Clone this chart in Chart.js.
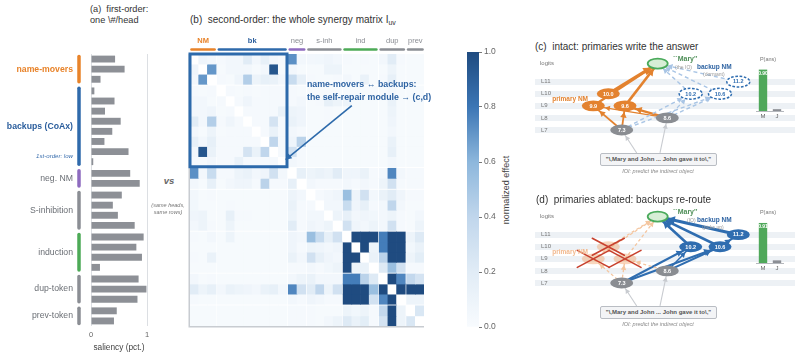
<!DOCTYPE html>
<html><head><meta charset="utf-8">
<script src="https://cdn.jsdelivr.net/npm/chart.js@4.4.1/dist/chart.umd.min.js"></script>
<style>
html,body{margin:0;padding:0;background:#fff}
body{width:800px;height:358px;position:relative;overflow:hidden;font-family:"Liberation Sans",Arial,Helvetica,sans-serif}
canvas{position:absolute;display:block}
.t{position:absolute;white-space:pre;line-height:1}
.box{position:absolute;box-sizing:border-box;border:1.3px solid #b9bdc3;border-radius:2px;background:#f3f4f6;color:#555;font-weight:bold;font-size:6px;text-align:center;white-space:pre;line-height:10px}
</style></head><body>
<script>
// ---------------- DATA ----------------
const groupShort = ['NM','bk','neg','s-inh','ind','dup','prev'];
const groupNames = ['name-movers','backups (CoAx)','neg. NM','S-inhibition','induction','dup-token','prev-token'];
const groupSizes = [3,8,2,4,4,3,2];
const saliency = [0.43,0.60,0.17, 0.06,0.42,0.25,0.53,0.38,0.24,0.67,0.04, 0.70,0.87, 0.55,0.39,0.48,0.78, 0.94,0.81,0.91,0.16, 0.85,0.99,0.83, 0.46,0.41];
const synergy = [
[0,.08,.05, .03,.05,.05,.2,.05,.15,.05,.03, .72,.05, .05,.06,.08,.05, .03,.02,.03,.02, .05,.2,.03, .02,.02],
[.08,0,.7, .02,.05,.05,.05,.02,.05,.95,.02, .05,.02, .02,.02,.1,.1, .02,.02,.02,.02, .02,.1,.02, .02,.02],
[.05,.7,0, .03,.02,.08,.45,.1,.15,.12,.05, .35,.15, .03,.02,.02,.03, .05,.02,.12,.02, .03,.15,.02, .02,.02],
[.03,.02,.03, 0,.03,.02,.03,.02,.03,.03,.03, .03,.02, .02,.02,.02,.02, .02,.02,.02,.02, .02,.05,.02, .02,.02],
[.05,.05,.02, .03,0,.03,.08,.03,.03,.03,.03, .03,.05, .02,.03,.15,.1, .1,.02,.02,.02, .02,.12,.02, .02,.02],
[.05,.05,.08, .02,.03,0,.03,.03,.03,.03,.12, .1,.08, .02,.02,.03,.02, .02,.02,.02,.02, .02,.1,.02, .02,.02],
[.2,.05,.45, .03,.08,.03,0,.03,.03,.28,.03, .12,.08, .02,.02,.03,.02, .02,.02,.02,.02, .02,.08,.02, .02,.02],
[.05,.02,.1, .02,.03,.03,.03,0,.03,.12,.03, .05,.03, .02,.02,.02,.02, .02,.02,.02,.02, .02,.05,.02, .02,.02],
[.15,.05,.15, .03,.03,.03,.03,.03,0,.4,.03, .08,.42, .02,.02,.02,.02, .02,.02,.02,.02, .02,.12,.02, .02,.02],
[.05,.95,.12, .03,.03,.03,.28,.12,.4,0,.03, .3,.03, .02,.02,.02,.02, .02,.02,.02,.02, .02,.15,.02, .02,.02],
[.03,.02,.05, .03,.03,.12,.03,.03,.03,.03,0, .05,.03, .02,.02,.02,.02, .02,.02,.02,.02, .02,.05,.02, .02,.02],
[.72,.05,.35, .03,.03,.1,.12,.05,.08,.3,.05, 0,.15, .1,.12,.1,.2, .08,.08,.12,.03, .05,.75,.05, .03,.03],
[.05,.02,.15, .02,.05,.08,.08,.03,.42,.03,.03, .15,0, .05,.03,.03,.03, .05,.03,.05,.03, .1,.3,.03, .03,.03],
[.05,.02,.03, .02,.02,.02,.02,.02,.02,.02,.02, .1,.05, 0,.03,.05,.08, .55,.1,.3,.05, .12,.2,.08, .03,.03],
[.06,.02,.02, .02,.03,.02,.02,.02,.02,.02,.02, .12,.03, .03,0,.05,.05, .35,.08,.15,.03, .05,.4,.05, .02,.02],
[.08,.1,.02, .02,.15,.03,.03,.02,.02,.02,.02, .1,.03, .05,.05,0,.1, .15,.05,.08,.06, .05,.1,.03, .02,.05],
[.05,.1,.03, .02,.1,.02,.02,.02,.02,.02,.02, .2,.03, .08,.05,.1,0, .3,.08,.05,.1, .05,.3,.03, .02,.1],
[.03,.02,.05, .02,.1,.02,.02,.02,.02,.02,.02, .08,.05, .55,.35,.15,.3, 0,1,1,1, .78,1,1, .1,.22],
[.02,.02,.02, .02,.02,.02,.02,.02,.02,.02,.02, .08,.03, .1,.08,.05,.08, 1,0,1,.1, .78,1,1, .06,.12],
[.03,.02,.12, .02,.02,.02,.02,.02,.02,.02,.02, .12,.05, .3,.15,.08,.05, 1,1,0,.12, .42,1,1, .1,.18],
[.02,.02,.02, .02,.02,.02,.02,.02,.02,.02,.02, .03,.03, .05,.03,.06,.1, 1,.1,.12,0, .22,.55,.3, .03,.03],
[.05,.02,.03, .02,.02,.02,.02,.02,.02,.02,.02, .05,.1, .12,.05,.05,.05, .78,.78,.42,.22, 0,1,.75, .38,.28],
[.2,.1,.15, .05,.12,.1,.08,.05,.12,.15,.05, .75,.3, .2,.4,.1,.3, 1,1,1,.55, 1,0,1, 1,1],
[.03,.02,.02, .02,.02,.02,.02,.02,.02,.02,.02, .05,.03, .08,.05,.03,.03, 1,1,1,.3, .75,1,0, .1,.1],
[.02,.02,.02, .02,.02,.02,.02,.02,.02,.02,.02, .03,.03, .03,.02,.02,.02, .1,.06,.1,.03, .38,1,.1, 0,.25],
[.02,.02,.02, .02,.02,.02,.02,.02,.02,.02,.02, .03,.03, .03,.02,.05,.1, .22,.12,.18,.03, .28,1,.1, .25,0]
];
const cbTicks = [0, 0.2, 0.4, 0.6, 0.8, 1.0];

// circuit diagrams (c) & (d)
const nodeNames = ['7.3','8.6','9.9','9.6','10.0','10.2','10.6','11.2','Mary','in1','in2'];
const nodeLayer = [7, 8, 9, 9, 10, 10, 10, 11, 12.5, 5.1, 5.1];
const nodeX     = [86.7, 132.3, 58.3, 90, 73.3, 155.7, 185, 203.3, 122.7, 101.7, 125];
const nodeRole  = ['input','input','primary','primary','primary','backup','backup','backup','answer','anchor','anchor'];
const layers = [7, 8, 9, 10, 11];
const edgesIntact = [
  ['in1','7.3','in',1.1], ['in2','8.6','in',1.1],
  ['7.3','10.2','bd',1.4], ['7.3','10.6','bd',1.4], ['8.6','10.6','bd',1.4], ['8.6','10.2','bd',1.2],
  ['10.2','Mary','bd',1.4], ['10.6','Mary','bd',1.4], ['11.2','Mary','bd',1.4],
  ['7.3','9.9','p',1.8], ['7.3','9.6','p',1.8], ['8.6','9.6','p',2.2], ['8.6','9.9','p',1.4],
  ['9.9','Mary','p',2.4], ['10.0','Mary','p',3], ['9.6','Mary','p',2.6]
];
const edgesAblated = [
  ['in1','7.3','in',1.1], ['in2','8.6','in',1.1],
  ['7.3','9.9','pf',1.3], ['7.3','9.6','pf',1.3], ['8.6','9.6','pf',1.3],
  ['9.9','Mary','pf',1.3], ['10.0','Mary','pf',1.3], ['9.6','Mary','pf',1.3],
  ['7.3','10.2','b',2], ['7.3','10.6','b',2.2], ['8.6','10.6','b',2], ['8.6','10.2','b',1.5],
  ['10.6','11.2','b',2], ['10.2','Mary','b',2.6], ['10.6','Mary','b',2.6], ['11.2','Mary','b',3]
];
const ansLabels = ['M','J'];
const pAnsIntact = [0.90, 0.04];
const pAnsAblated = [0.91, 0.06];

// ---------------- STYLE ----------------
const FONT = '"Liberation Sans", Arial, Helvetica, sans-serif';
const groupColors = ['#e8832a','#2f6aab','#8e6bbf','#8b8e94','#4daa57','#8b8e94','#8b8e94'];
const cmapStops = [[0,'#f8fbfe'],[0.2,'#e1ecf6'],[0.4,'#c0d6ec'],[0.6,'#8db7dc'],[0.8,'#3c76b5'],[1,'#1f4b80']];
function hex2rgb(h){return [1,3,5].map(i=>parseInt(h.slice(i,i+2),16));}
function cmap(v){
  if (v <= 0) return '#ffffff';
  v = Math.min(1, v);
  for (let i = 1; i < cmapStops.length; i++) {
    if (v <= cmapStops[i][0]) {
      const [t0,c0] = cmapStops[i-1], [t1,c1] = cmapStops[i];
      const f = (v - t0) / (t1 - t0), a = hex2rgb(c0), b = hex2rgb(c1);
      return 'rgb(' + a.map((x,k)=>Math.round(x + (b[k]-x)*f)).join(',') + ')';
    }
  }
  return cmapStops[cmapStops.length-1][1];
}
Chart.defaults.font.family = FONT;
Chart.defaults.animation = false;
Chart.defaults.events = [];
Chart.defaults.responsive = false;
Chart.defaults.maintainAspectRatio = false;
Chart.defaults.plugins.legend.display = false;
Chart.defaults.plugins.tooltip.enabled = false;

function mk(left, top, w, h){
  const c = document.createElement('canvas');
  c.width = w; c.height = h;
  c.style.left = left + 'px'; c.style.top = top + 'px';
  c.style.width = w + 'px'; c.style.height = h + 'px';
  document.body.appendChild(c);
  return c;
}
function T(txt, x, y, size, o = {}){
  const d = document.createElement('div');
  d.className = 't';
  if (o.html) d.innerHTML = txt; else d.textContent = txt;
  d.style.fontSize = size + 'px';
  d.style.top = (y - 0.55*size) + 'px';
  d.style.color = o.color || '#333';
  if (o.bold) d.style.fontWeight = 'bold';
  if (o.italic) d.style.fontStyle = 'italic';
  if (o.align === 'right') d.style.right = (800 - x) + 'px';
  else if (o.align === 'center') { d.style.left = x + 'px'; d.style.transform = 'translateX(-50%)'; }
  else d.style.left = x + 'px';
  document.body.appendChild(d);
  return d;
}

// group geometry helpers
const groupOf = [];
groupSizes.forEach((n,g)=>{ for (let i=0;i<n;i++) groupOf.push(g); });
const GAP = 0.15;
const pos = i => i + GAP * groupOf[i];
const SPAN = pos(groupOf.length - 1) + 1;
const groupStart = groupSizes.map((n,g)=>groupSizes.slice(0,g).reduce((a,b)=>a+b,0));
const hideTicks = s => { s.ticks = [{value: s.min}, {value: s.max}]; };

// ---------------- (a) first-order bars ----------------
const aDecor = {
  id: 'aDecor',
  afterDraw(chart){
    const {ctx, scales:{y}} = chart;
    ctx.save();
    groupSizes.forEach((n,g)=>{
      const y0 = y.getPixelForValue(pos(groupStart[g])), y1 = y.getPixelForValue(pos(groupStart[g]+n-1)+1);
      ctx.strokeStyle = groupColors[g]; ctx.lineWidth = 3.5; ctx.lineCap = 'round';
      ctx.beginPath(); ctx.moveTo(79, y0+2.5); ctx.lineTo(79, y1-2.5); ctx.stroke();
      const bold = g < 2;
      ctx.font = (bold ? 'bold ' : '') + '8.7px ' + FONT;
      ctx.fillStyle = g === 0 ? '#e8832a' : g === 1 ? '#2a5d9c' : '#6b6f75';
      ctx.textAlign = 'right'; ctx.textBaseline = 'middle';
      ctx.fillText(groupNames[g], 73, (y0+y1)/2);
      if (g === 1) {
        ctx.font = 'italic 6.1px ' + FONT; ctx.fillStyle = '#3b6fae';
        ctx.fillText('1st-order: low', 73, y.getPixelForValue(pos(groupStart[1]+n-1)));
      }
    });
    ctx.restore();
  }
};
new Chart(mk(0, 36, 155, 318), {
  type: 'bar',
  data: { datasets: [{ data: saliency.map((v,i)=>({x: v, y: pos(i)+0.5})), backgroundColor: '#8d9096', barPercentage: 0.68, categoryPercentage: 1 }] },
  options: {
    indexAxis: 'y',
    layout: { padding: { left: 91, right: 8, top: 18, bottom: 0 } },
    scales: {
      y: { type: 'linear', min: 0, max: SPAN, reverse: true, display: false, offset: false, afterBuildTicks: hideTicks },
      x: { type: 'linear', min: 0, max: 1, offset: false,
           afterBuildTicks: s => { s.ticks = [{value:0},{value:1}]; },
           grid: { color: '#dcdfe3', drawTicks: false }, border: { display: false },
           ticks: { font: { size: 7.5 }, color: '#666', padding: 4 },
           title: { display: true, text: 'saliency (pct.)', font: { size: 8.3 }, color: '#444', padding: { top: 2, bottom: 1 } },
           afterFit: s => { s.height = 28; } }
    }
  },
  plugins: [aDecor]
});

// ---------------- (b) synergy matrix ----------------
const annot = { x: 18.6, y: 5.1 };
const mDecor = {
  id: 'mDecor',
  afterDraw(chart){
    const {ctx, chartArea: a, scales: {x, y}} = chart;
    ctx.save();
    ctx.strokeStyle = '#c8ccd1'; ctx.lineWidth = 1.5;
    ctx.beginPath(); ctx.moveTo(a.left - 0.75, a.top); ctx.lineTo(a.left - 0.75, a.bottom + 0.75); ctx.lineTo(a.right, a.bottom + 0.75); ctx.stroke();
    groupSizes.forEach((n,g)=>{
      const x0 = x.getPixelForValue(pos(groupStart[g])), x1 = x.getPixelForValue(pos(groupStart[g]+n-1)+1);
      ctx.strokeStyle = groupColors[g]; ctx.lineWidth = 2.6; ctx.lineCap = 'round';
      ctx.beginPath(); ctx.moveTo(x0+1.5, a.top-4.5); ctx.lineTo(x1-1.5, a.top-4.5); ctx.stroke();
      ctx.font = (g < 2 ? 'bold ' : '') + '7.5px ' + FONT;
      ctx.fillStyle = g === 0 ? '#e8832a' : g === 1 ? '#2a5d9c' : '#8b8e94';
      ctx.textAlign = 'center'; ctx.textBaseline = 'middle';
      ctx.fillText(groupShort[g], (x0+x1)/2, a.top - 13.5);
    });
    // self-repair block box
    const last = groupStart[1] + groupSizes[1] - 1;
    const bx0 = x.getPixelForValue(0), bx1 = x.getPixelForValue(pos(last)+1);
    const by0 = y.getPixelForValue(0), by1 = y.getPixelForValue(pos(last)+1);
    ctx.strokeStyle = '#2d6aab'; ctx.lineWidth = 3; ctx.lineCap = 'butt';
    ctx.strokeRect(bx0, by0, bx1-bx0, by1-by0);
    // annotation arrow
    const sx = x.getPixelForValue(annot.x), sy = y.getPixelForValue(annot.y);
    const tx = x.getPixelForValue(pos(last)+0.85), ty = y.getPixelForValue(pos(last)+0.3);
    ctx.lineWidth = 1.6; ctx.beginPath(); ctx.moveTo(sx, sy); ctx.lineTo(tx, ty); ctx.stroke();
    const L = Math.hypot(tx-sx, ty-sy), ux = (tx-sx)/L, uy = (ty-sy)/L, hl = 6, hw = 3;
    ctx.fillStyle = '#2d6aab'; ctx.beginPath(); ctx.moveTo(tx, ty);
    ctx.lineTo(tx-ux*hl-uy*hw, ty-uy*hl+ux*hw); ctx.lineTo(tx-ux*hl+uy*hw, ty-uy*hl-ux*hw); ctx.closePath(); ctx.fill();
    ctx.restore();
  }
};
new Chart(mk(187, 36, 241, 293), {
  type: 'bar',
  data: { datasets: synergy.map((row, r) => ({
    data: row.map((v, c) => ({ x: pos(c)+0.5, y: [pos(r), pos(r)+1], v })),
    backgroundColor: ctx => cmap(ctx.raw ? ctx.raw.v : 0),
    grouped: false, barPercentage: 1, categoryPercentage: 1, borderWidth: 0
  })) },
  options: {
    layout: { padding: { left: 3, right: 4, top: 18, bottom: 3 } },
    scales: {
      x: { type: 'linear', min: 0, max: SPAN, display: false, offset: false, afterBuildTicks: hideTicks },
      y: { type: 'linear', min: 0, max: SPAN, reverse: true, display: false, offset: false, afterBuildTicks: hideTicks }
    }
  },
  plugins: [mDecor]
});

// ---------------- colorbar ----------------
new Chart(mk(467, 44, 32, 291), {
  type: 'bar',
  data: { labels: [''], datasets: [{ data: [[cbTicks[0], cbTicks[cbTicks.length-1]]], barPercentage: 1, categoryPercentage: 1,
    backgroundColor: ctx => { const a = ctx.chart.chartArea; if (!a) return '#8db7dc';
      const g = ctx.chart.ctx.createLinearGradient(0, a.bottom, 0, a.top); cmapStops.forEach(([t,c]) => g.addColorStop(t, c)); return g; } }] },
  options: {
    layout: { padding: { top: 8, bottom: 8, left: 0, right: 0 } },
    scales: {
      x: { display: false },
      y: { position: 'right', min: 0, max: 1, afterBuildTicks: s => { s.ticks = cbTicks.map(v => ({value: v})); },
           ticks: { callback: v => Number(v).toFixed(1), font: { size: 8.5 }, color: '#666', padding: 2 },
           grid: { drawOnChartArea: false, drawTicks: true, tickLength: 3, color: '#777' }, border: { display: false },
           afterFit: s => { s.width = 20; } }
    }
  }
});

// ---------------- (c)/(d) diagrams ----------------
const edgeStyle = {
  p:  { color: '#e3822f', dash: [] },
  pf: { color: '#f4c6a0', dash: [3, 2.5] },
  bd: { color: '#a9c5e5', dash: [4, 3] },
  b:  { color: '#2f6db0', dash: [] },
  in: { color: '#c8cbd0', dash: [] }
};
const roleStyle = {
  input:      { fill: '#8a8d92', text: '#fff' },
  primary:    { fill: '#e3822f', text: '#fff' },
  primaryOff: { fill: 'rgba(241,166,110,0.45)', text: null },
  dormant:    { fill: '#fff', stroke: '#2f6db0', dash: [2.6, 1.6], lw: 1.5, text: '#2f6db0' },
  backup:     { fill: '#2f6db0', text: '#fff' },
  answer:     { fill: '#d7eed6', stroke: '#4aaa5b', lw: 1.8, text: null }
};
const nodeIndex = Object.fromEntries(nodeNames.map((n,i)=>[n,i]));
const radii = n => nodeRole[nodeIndex[n]] === 'anchor' ? [0,0] : n === 'Mary' ? [10,5] : [11.5,5.4];
const styleFor = (role, ablated) => role === 'primary' ? (ablated ? 'primaryOff' : 'primary')
  : role === 'backup' ? (ablated ? 'backup' : 'dormant') : role;

const dDecor = {
  id: 'dDecor',
  afterDatasetsDraw(chart, args, opts){
    const {ctx, chartArea: a, scales: {y}} = chart;
    const ablated = opts.ablated;
    ctx.save();
    ctx.font = '6px ' + FONT; ctx.fillStyle = '#777'; ctx.textAlign = 'left'; ctx.textBaseline = 'middle';
    layers.forEach(l => ctx.fillText('L' + l, a.left + 6, y.getPixelForValue(l)));
    const dsets = chart.data.datasets;
    const nodeMeta = chart.getDatasetMeta(dsets.length - 1);
    const P = {}; nodeNames.forEach((n,i) => { P[n] = nodeMeta.data[i]; });
    // arrowheads
    dsets.forEach(ds => {
      if (!ds.edge) return;
      const p0 = P[ds.edge.from], p1 = P[ds.edge.to];
      const [rx, ry] = radii(ds.edge.to), w = ds.edge.w;
      const dx = p1.x - p0.x, dy = p1.y - p0.y, L = Math.hypot(dx, dy); if (!L) return;
      const ux = dx/L, uy = dy/L;
      const t = rx ? 1/Math.sqrt((ux/rx)**2 + (uy/ry)**2) + 0.8 : 0;
      const tx = p1.x - ux*t, ty = p1.y - uy*t, hl = 3 + w*1.4, hw = 1.6 + w*0.9;
      const bx = tx - ux*hl, by = ty - uy*hl;
      ctx.fillStyle = edgeStyle[ds.edge.kind].color;
      ctx.beginPath(); ctx.moveTo(tx, ty); ctx.lineTo(bx - uy*hw, by + ux*hw); ctx.lineTo(bx + uy*hw, by - ux*hw); ctx.closePath(); ctx.fill();
    });
    // nodes
    nodeNames.forEach((n,i) => {
      const role = nodeRole[i]; if (role === 'anchor') return;
      const st = roleStyle[styleFor(role, ablated)], p = P[n], [rx, ry] = radii(n);
      ctx.beginPath(); ctx.ellipse(p.x, p.y, rx, ry, 0, 0, Math.PI*2);
      ctx.fillStyle = st.fill; ctx.fill();
      if (st.stroke) { ctx.setLineDash(st.dash || []); ctx.lineWidth = st.lw; ctx.strokeStyle = st.stroke; ctx.stroke(); ctx.setLineDash([]); }
      if (st.text) { ctx.font = 'bold 5.5px ' + FONT; ctx.fillStyle = st.text; ctx.textAlign = 'center'; ctx.fillText(n, p.x, p.y + 0.3); }
    });
    // ablation crosses
    if (ablated) {
      ctx.strokeStyle = '#c8412e'; ctx.lineWidth = 1.6; ctx.lineCap = 'round';
      nodeNames.forEach((n,i) => {
        if (nodeRole[i] !== 'primary') return;
        const p = P[n];
        ctx.beginPath(); ctx.moveTo(p.x-16, p.y-8.5); ctx.lineTo(p.x+16, p.y+8.5);
        ctx.moveTo(p.x+16, p.y-8.5); ctx.lineTo(p.x-16, p.y+8.5); ctx.stroke();
      });
    }
    ctx.restore();
  }
};
function diagram(top, edges, ablated){
  const pt = n => ({ x: nodeX[nodeIndex[n]], y: nodeLayer[nodeIndex[n]] });
  const datasets = edges.map(([a, b, kind, w]) => ({
    data: [pt(a), pt(b)], showLine: true, pointRadius: 0, borderColor: edgeStyle[kind].color,
    borderWidth: w, borderDash: edgeStyle[kind].dash, edge: { from: a, to: b, kind, w }
  }));
  datasets.push({ data: nodeNames.map(pt), pointRadius: 0, showLine: false });
  new Chart(mk(535, top, 260, 130), {
    type: 'scatter',
    data: { datasets },
    options: {
      layout: { padding: 0 },
      scales: {
        x: { type: 'linear', min: 0, max: 260, display: false },
        y: { type: 'linear', min: 2.695, max: 13.457, afterBuildTicks: s => { s.ticks = layers.map(v => ({value: v})); },
             ticks: { display: false }, grid: { color: '#edf1f5', lineWidth: 6, drawTicks: false }, border: { display: false },
             afterFit: s => { s.width = 0; } }
      },
      plugins: { dDecor: { ablated } }
    },
    plugins: [dDecor]
  });
}
diagram(52, edgesIntact, false);
diagram(205, edgesAblated, true);

const pDecor = {
  id: 'pDecor',
  afterDatasetsDraw(chart){
    const {ctx} = chart; const el = chart.getDatasetMeta(0).data[0]; const v = chart.data.datasets[0].data[0];
    ctx.save(); ctx.font = 'bold 5px ' + FONT; ctx.fillStyle = '#fff'; ctx.textAlign = 'center'; ctx.textBaseline = 'top';
    ctx.fillText(v.toFixed(2), el.x, el.y + 1.5); ctx.restore();
  }
};
function pans(top, h, vals){
  new Chart(mk(756, top, 28, h + 10), {
    type: 'bar',
    data: { labels: ansLabels, datasets: [{ data: vals, backgroundColor: ['#4fa85a', '#8b8e94'], barPercentage: 0.6, categoryPercentage: 1 }] },
    options: {
      layout: { padding: 0 },
      scales: {
        x: { grid: { display: false, drawTicks: false }, border: { color: '#b5b8bd' }, ticks: { font: { size: 6 }, color: '#666', padding: 2 }, afterFit: s => { s.height = 10; } },
        y: { display: false, min: 0, max: 1 }
      }
    },
    plugins: [pDecor]
  });
}
pans(65, 46, pAnsIntact);
pans(219, 44, pAnsAblated);

// ---------------- TEXT ----------------
T('(a)  first-order:', 90, 10, 9.2);
T('one \\#/head', 90, 21, 9.2);
T('vs', 169, 181, 9.5, { italic: true, bold: true, color: '#666', align: 'center' });
T('(same heads,', 168, 206, 5.5, { italic: true, color: '#777', align: 'center' });
T('same rows)', 168, 213, 5.5, { italic: true, color: '#777', align: 'center' });
T('(b)  second-order: the whole synergy matrix I<sub style="font-size:7px;vertical-align:-2px">uv</sub>', 190, 20, 10, { html: true });
T('name-movers \u2194 backups:', 307, 85, 8.8, { bold: true, color: '#2f64a3' });
T('the self-repair module \u2192 (c,d)', 307, 97.7, 8.8, { bold: true, color: '#2f64a3' });
const nl = T('normalized effect', 0, 0, 9, { color: '#444' });
nl.style.left = '506px'; nl.style.top = '190px'; nl.style.transform = 'translate(-50%,-50%) rotate(-90deg)';

function panelText(dy, ablated){
  T('logits', 540, 63 + dy, 6, { color: '#777' });
  T('primary NM', 588, 99.7 + dy, 6.5, { bold: true, color: ablated ? '#f2b98e' : '#e3822f', align: 'right' });
  T("``Mary''", 673, 59 + dy, 7, { bold: true, color: '#4f8f58' });
  T(ablated ? '(IO)' : '(the IO)', ablated ? 687 : 675, 68 + dy, 5, { color: '#999' });
  T('backup NM', 697, 67.7 + dy, 6.5, { bold: true, color: '#2f64a3' });
  T(ablated ? '(picks up)' : '(dormant)', ablated ? 702 : 703, 75 + dy, 5, { color: '#999' });
  T('P(ans)', 768, 60 + dy, 5.5, { color: '#777', align: 'center' });
  const b = document.createElement('div'); b.className = 'box';
  b.style.left = '600px'; b.style.top = (153 + dy) + 'px'; b.style.width = '117px'; b.style.height = '12.5px';
  b.textContent = '"\\,Mary and John ... John gave it to\\,"';
  document.body.appendChild(b);
  T('IOI: predict the indirect object', 658, 172 + dy, 5.5, { italic: true, color: '#888', align: 'center' });
}
T('(c)  intact: primaries write the answer', 535, 47, 10);
T('(d)  primaries ablated: backups re-route', 536, 200, 10);
panelText(0, false);
panelText(153, true);
</script>
</body></html>
